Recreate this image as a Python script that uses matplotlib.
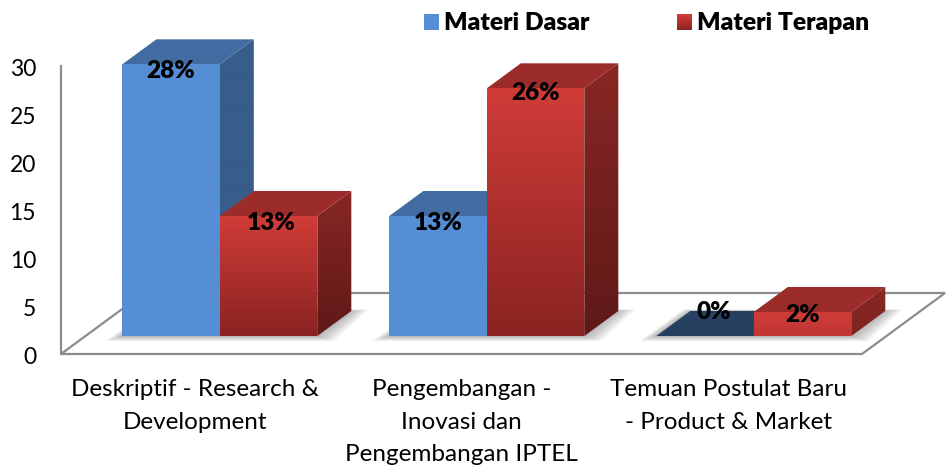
import numpy as np
import matplotlib
matplotlib.use('Agg')
import matplotlib.pyplot as plt
from matplotlib.colors import to_rgb
from matplotlib.patches import Polygon, Rectangle
from matplotlib.transforms import ScaledTranslation

categories = ['Deskriptif - Research &\nDevelopment',
              'Pengembangan -\nInovasi dan\nPengembangan IPTEL',
              'Temuan Postulat Baru\n- Product & Market']
series_names = ['Materi Dasar', 'Materi Terapan']
materi_dasar = [28.3, 12.5, 0.0]
materi_terapan = [12.5, 25.8, 2.5]
labels_dasar = ['28%', '13%', '0%']
labels_terapan = ['13%', '26%', '2%']
y_ticks = [0, 5, 10, 15, 20, 25, 30]

plt.rcParams['font.family'] = ['Lato', 'DejaVu Sans']

W, H = 946, 466
PX_X = 267.0  # px per category
PX_Y = 9.6  # px per value unit
FLOOR_DX = 83 / PX_X  # oblique floor depth, data units
FLOOR_DY = 61 / PX_Y
Z_FRONT, Z_BACK = 18 / 61, 43 / 61
BAR_W = 97.5 / PX_X
NUDGE = 0.8 / PX_X

BLUE = dict(front=('#558ed5', '#558ed5'), side=('#375d8b', '#375d8b'), top='#426ca1', empty='#254061')
RED = dict(front=('#d03c38', '#8a2321'), side=('#882725', '#5e1917'), top='#9b2c2a', empty='#9b2c2a')

fig = plt.figure(figsize=(W / 100, H / 100), dpi=100)
ax = fig.add_axes([61 / W, (H - 354) / H, (W - 61) / W, 354 / H])


def gradient_face(points, top, bottom):
    """Fill a polygon with a vertical gradient, clipped to the polygon."""
    pts = np.array(points)
    t = np.linspace(0, 1, 64)[:, None]
    img = (1 - t) * np.array(to_rgb(top)) + t * np.array(to_rgb(bottom))
    im = ax.imshow(img[:, None, :], aspect='auto', interpolation='bilinear', zorder=3,
                   extent=[pts[:, 0].min(), pts[:, 0].max(), pts[:, 1].min(), pts[:, 1].max()])
    clip = Polygon(pts, transform=ax.transData)
    im.set_clip_path(clip)


def shadow(x0, x1, base):
    """Soft floor shadow below one group of bars, as stacked see-through outlines."""
    ddx, ddy = (Z_BACK - Z_FRONT) * FLOOR_DX, (Z_BACK - Z_FRONT) * FLOOR_DY
    for grow in np.linspace(17, 1, 9):
        ex, ey = grow / PX_X, grow * 0.3 / PX_Y
        ax.add_patch(Polygon([(x0 - ex, base - ey), (x1 + ex, base - ey),
                              (x1 + ddx + ex, base + ddy + ey * 0.3), (x0 + ddx - ex * 0.4, base + ddy + ey * 0.3)],
                             fc='#6e6e6e', ec='none', alpha=0.065, zorder=2))


def bar3d(x0, value, style):
    ddx, ddy = (Z_BACK - Z_FRONT) * FLOOR_DX, (Z_BACK - Z_FRONT) * FLOOR_DY
    base = Z_FRONT * FLOOR_DY
    x1 = x0 + BAR_W
    top = base + value
    # low bars do not reach the dark end of the gradient
    fade = min(1.0, value / 10)
    bottom = (1 - fade) * np.array(to_rgb(style['front'][0])) + fade * np.array(to_rgb(style['front'][1]))
    side_bottom = (1 - fade) * np.array(to_rgb(style['side'][0])) + fade * np.array(to_rgb(style['side'][1]))
    if value > 0:
        gradient_face([(x1, base), (x1 + ddx, base + ddy), (x1 + ddx, top + ddy), (x1, top)],
                      style['side'][0], side_bottom)
        ax.add_patch(Polygon([(x0, top), (x1, top), (x1 + ddx, top + ddy), (x0 + ddx, top + ddy)],
                             fc=style['top'], ec='none', zorder=3))
        gradient_face([(x0, base), (x1, base), (x1, top), (x0, top)], style['front'][0], bottom)
    else:
        ax.add_patch(Polygon([(x0, top), (x1, top), (x1 + ddx, top + ddy), (x0 + ddx, top + ddy)],
                             fc=style['empty'], ec='none', zorder=3))


# floor of the 3d box
ax.add_patch(Polygon([(0, 0), (3, 0), (3 + FLOOR_DX, FLOOR_DY), (FLOOR_DX, FLOOR_DY)],
                     fc='white', ec='#8c8c8c', lw=1.6, zorder=1, clip_on=False))

x_pos = np.arange(3) + 0.5
base_y = Z_FRONT * FLOOR_DY
for i, xc in enumerate(x_pos):
    left = xc + Z_FRONT * FLOOR_DX - BAR_W + NUDGE
    shadow(left, left + 2 * BAR_W, base_y)
    bar3d(left, materi_dasar[i], BLUE)
    bar3d(left + BAR_W, materi_terapan[i], RED)

# data labels sit a little under the top edge, offsets in points
offs_dasar = [-4.8, -5.2, 17]
offs_terapan = [-5.2, -3.2, -2.2]
shift_dasar = [0, 0, 6.5]
shift_terapan = [2, 0, 0]
for i, xc in enumerate(x_pos):
    left = xc + Z_FRONT * FLOOR_DX - BAR_W + NUDGE
    for x0, val, txt, oy, ox in ((left, materi_dasar[i], labels_dasar[i], offs_dasar[i], shift_dasar[i]),
                                 (left + BAR_W, materi_terapan[i], labels_terapan[i], offs_terapan[i], shift_terapan[i])):
        ax.annotate(txt, (x0 + BAR_W / 2, base_y + val), xytext=(ox, oy), textcoords='offset points',
                    ha='center', va='center', fontsize=17.6, fontweight='heavy', color='black', zorder=5)

ax.set_xlim(0, (W - 61) / PX_X)
ax.set_ylim(0, 354 / PX_Y)
ax.patch.set_alpha(0)

for name in ('top', 'right', 'bottom'):
    ax.spines[name].set_visible(False)
ax.spines['left'].set_bounds(0, 30)
ax.spines['left'].set_color('#8c8c8c')
ax.spines['left'].set_linewidth(1.6)
ax.set_yticks(y_ticks)
ax.set_xticks(x_pos)
ax.set_xticklabels(categories, linespacing=1.68)
ax.tick_params(axis='y', length=0, pad=18, labelsize=16.5)
ax.tick_params(axis='x', length=0, pad=18, labelsize=17.5)
# the tick digits sit slightly high in Lato
down = ScaledTranslation(0, -1.4 / 100, fig.dpi_scale_trans)
for lab in ax.get_yticklabels():
    lab.set_transform(lab.get_transform() + down)


class GradientHandle:
    def __init__(self, top, bottom):
        self.top, self.bottom = top, bottom

    def legend_artist(self, legend, orig_handle, fontsize, handlebox):
        x0, y0 = handlebox.xdescent, handlebox.ydescent
        w, h = handlebox.width, handlebox.height
        c0, c1 = np.array(to_rgb(self.top)), np.array(to_rgb(self.bottom))
        n = 12
        rects = []
        for k in range(n):
            t = k / (n - 1)
            r = Rectangle((x0 - 0, y0 + h - (k + 1) * h / n), w, h / n + 0.2,
                          fc=(1 - t) * c0 + t * c1, ec='none', transform=handlebox.get_transform())
            handlebox.add_artist(r)
            rects.append(r)
        return rects[0]


h_dasar = Rectangle((0, 0), 1, 1, fc=BLUE['front'][0])
h_terapan = Rectangle((0, 0), 1, 1, fc=RED['front'][0])
ax.legend([h_dasar, h_terapan], series_names, ncol=2, frameon=False,
          loc='center left', bbox_to_anchor=((424 - 61) / (W - 61), (354 - 22.5) / 354),
          prop=dict(size=17.7, weight='heavy'), borderpad=0, borderaxespad=0,
          handlelength=0.6, handleheight=0.6, handletextpad=0.22, columnspacing=3.55,
          handler_map={h_dasar: GradientHandle(*BLUE['front']), h_terapan: GradientHandle(*RED['front'])})

fig.savefig('out.png', dpi=100)
